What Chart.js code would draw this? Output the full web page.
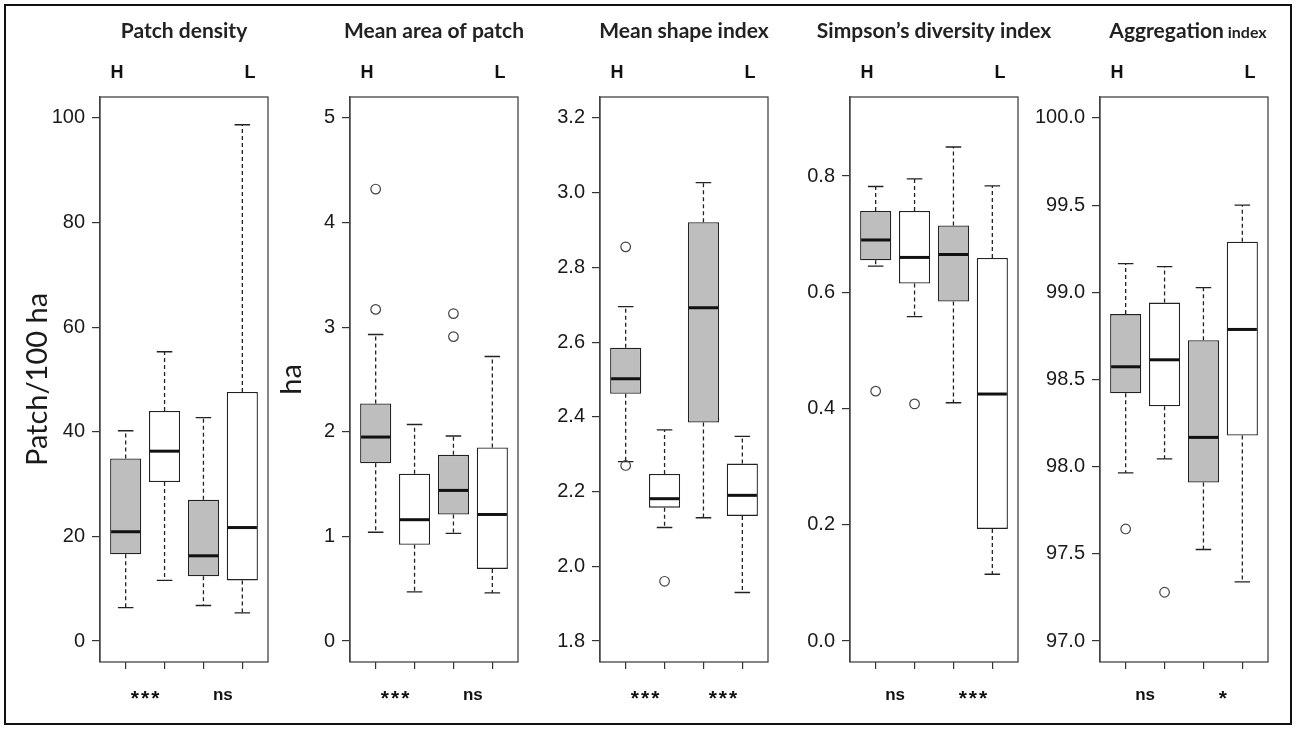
<!DOCTYPE html>
<html>
<head>
<meta charset="utf-8">
<script src="https://cdn.jsdelivr.net/npm/chart.js@4.4.0/dist/chart.umd.min.js"></script>
<style>
    html, body { margin: 0; padding: 0; background: #fff; }
    #wrap { position: relative; width: 1296px; height: 729px; overflow: hidden; }
    #frame { position: absolute; left: 4px; top: 4px; width: 1284px; height: 717px; border: 2px solid #111; }
    canvas { position: absolute; top: 0; }
</style>
</head>
<body>
<div id="wrap">
    <div id="frame"></div>
    <canvas id="c0" data-panel="0" width="330" height="729" style="left:0px"></canvas>
    <canvas id="c1" data-panel="1" width="330" height="729" style="left:250px"></canvas>
    <canvas id="c2" data-panel="2" width="330" height="729" style="left:500px"></canvas>
    <canvas id="c3" data-panel="3" width="330" height="729" style="left:750px"></canvas>
    <canvas id="c4" data-panel="4" width="330" height="729" style="left:1000px"></canvas>
</div>
<script>
// Box positions on the x axis and the fill of each box (H pair, L pair)
const xTicks = [1, 2, 3, 4];
const boxFill = ['#bebebe', '#ffffff', '#bebebe', '#ffffff'];
const groupLabels = ['H', 'L'];

const panelTitles = ['Patch density', 'Mean area of patch', 'Mean shape index', 'Simpson\u2019s diversity index', 'Aggregation'];
const panelTitleTails = ['', '', '', '', ' index'];
const yTitles = ['Patch/100 ha', 'ha', '', '', ''];
const signif = [['***', 'ns'], ['***', 'ns'], ['***', '***'], ['ns', '***'], ['ns', '*']];

// Each box: [lower whisker, Q1, median, Q3, upper whisker]
const densityStats = [
    [6.4, 16.6, 20.9, 34.9, 40.2],
    [11.6, 30.4, 36.3, 44.0, 55.3],
    [6.8, 12.4, 16.3, 27.0, 42.7],
    [5.4, 11.6, 21.7, 47.6, 98.7]
];
const densityOutliers = [[], [], [], []];
const densityTicks = [0, 20, 40, 60, 80, 100];
const densityTickLabels = ['0', '20', '40', '60', '80', '100'];
const densityLimits = [0, 100];

const areaStats = [
    [1.04, 1.70, 1.95, 2.27, 2.93],
    [0.47, 0.92, 1.16, 1.60, 2.07],
    [1.03, 1.21, 1.44, 1.78, 1.96],
    [0.46, 0.69, 1.21, 1.85, 2.72]
];
const areaOutliers = [[4.32, 3.17], [], [3.13, 2.91], []];
const areaTicks = [0, 1, 2, 3, 4, 5];
const areaTickLabels = ['0', '1', '2', '3', '4', '5'];
const areaLimits = [0, 5];

const shapeStats = [
    [2.28, 2.462, 2.502, 2.585, 2.695],
    [2.104, 2.157, 2.181, 2.247, 2.365],
    [2.13, 2.385, 2.692, 2.921, 3.027],
    [1.93, 2.135, 2.19, 2.275, 2.348]
];
const shapeOutliers = [[2.855, 2.27], [1.96], [], []];
const shapeTicks = [1.8, 2.0, 2.2, 2.4, 2.6, 2.8, 3.0, 3.2];
const shapeTickLabels = ['1.8', '2.0', '2.2', '2.4', '2.6', '2.8', '3.0', '3.2'];
const shapeLimits = [1.8, 3.2];

const simpsonStats = [
    [0.645, 0.655, 0.69, 0.74, 0.782],
    [0.558, 0.615, 0.66, 0.74, 0.795],
    [0.41, 0.584, 0.665, 0.715, 0.85],
    [0.115, 0.193, 0.425, 0.659, 0.783]
];
const simpsonOutliers = [[0.43], [0.408], [], []];
const simpsonTicks = [0, 0.2, 0.4, 0.6, 0.8];
const simpsonTickLabels = ['0.0', '0.2', '0.4', '0.6', '0.8'];
const simpsonLimits = [0, 0.9];

const aggStats = [
    [97.965, 98.421, 98.573, 98.875, 99.165],
    [98.045, 98.347, 98.613, 98.941, 99.147],
    [97.525, 97.909, 98.168, 98.725, 99.027],
    [97.34, 98.179, 98.787, 99.29, 99.5]
];
const aggOutliers = [[97.643], [97.28], [], []];
const aggTicks = [97.0, 97.5, 98.0, 98.5, 99.0, 99.5, 100.0];
const aggTickLabels = ['97.0', '97.5', '98.0', '98.5', '99.0', '99.5', '100.0'];
const aggLimits = [97, 100];

const panels = [
    { stats: densityStats, outliers: densityOutliers, ticks: densityTicks, labels: densityTickLabels, limits: densityLimits, titlePad: 20 },
    { stats: areaStats, outliers: areaOutliers, ticks: areaTicks, labels: areaTickLabels, limits: areaLimits, titlePad: 24 },
    { stats: shapeStats, outliers: shapeOutliers, ticks: shapeTicks, labels: shapeTickLabels, limits: shapeLimits, titlePad: 0 },
    { stats: simpsonStats, outliers: simpsonOutliers, ticks: simpsonTicks, labels: simpsonTickLabels, limits: simpsonLimits, titlePad: 0 },
    { stats: aggStats, outliers: aggOutliers, ticks: aggTicks, labels: aggTickLabels, limits: aggLimits, titlePad: 0 }
];

// whiskers, medians, plot box and the text around each panel
const boxExtras = {
    id: 'boxExtras',
    beforeDatasetsDraw(chart) {
        const p = panels[chart.canvas.dataset.panel];
        const { ctx } = chart;
        const y = chart.scales.y;
        const bars = chart.getDatasetMeta(0).data;
        ctx.save();
        ctx.strokeStyle = '#222';
        ctx.lineWidth = 1.3;
        p.stats.forEach((s, i) => {
            const bar = bars[i];
            const cap = bar.width / 4;
            ctx.setLineDash([4, 3]);
            ctx.beginPath();
            ctx.moveTo(bar.x, y.getPixelForValue(s[3]));
            ctx.lineTo(bar.x, y.getPixelForValue(s[4]));
            ctx.moveTo(bar.x, y.getPixelForValue(s[1]));
            ctx.lineTo(bar.x, y.getPixelForValue(s[0]));
            ctx.stroke();
            ctx.setLineDash([]);
            ctx.beginPath();
            [s[0], s[4]].forEach(v => {
                const py = y.getPixelForValue(v);
                ctx.moveTo(bar.x - cap, py);
                ctx.lineTo(bar.x + cap, py);
            });
            ctx.stroke();
        });
        ctx.restore();
    },
    afterDatasetsDraw(chart) {
        const p = panels[chart.canvas.dataset.panel];
        const { ctx } = chart;
        const y = chart.scales.y;
        const bars = chart.getDatasetMeta(0).data;
        ctx.save();
        ctx.strokeStyle = '#111';
        ctx.lineWidth = 3;
        p.stats.forEach((s, i) => {
            const bar = bars[i];
            const py = y.getPixelForValue(s[2]);
            ctx.beginPath();
            ctx.moveTo(bar.x - bar.width / 2 + 1, py);
            ctx.lineTo(bar.x + bar.width / 2 - 1, py);
            ctx.stroke();
        });
        ctx.restore();
    },
    afterDraw(chart) {
        const idx = Number(chart.canvas.dataset.panel);
        const { ctx, chartArea } = chart;
        const x = chart.scales.x;
        ctx.save();
        ctx.strokeStyle = '#444';
        ctx.lineWidth = 1.3;
        ctx.strokeRect(chartArea.left, chartArea.top, chartArea.right - chartArea.left, chartArea.bottom - chartArea.top);

        // panel title
        const cx = (chartArea.left + chartArea.right) / 2;
        ctx.fillStyle = '#222';
        ctx.textBaseline = 'middle';
        const main = panelTitles[idx];
        const tail = panelTitleTails[idx];
        ctx.font = 'bold 21px Lato';
        const w1 = ctx.measureText(main).width;
        ctx.font = 'bold 16px Lato';
        const w2 = tail ? ctx.measureText(tail).width : 0;
        const tx = cx - (w1 + w2) / 2 + (tail ? 4 : 0);
        ctx.textAlign = 'left';
        ctx.font = 'bold 21px Lato';
        ctx.fillText(main, tx, 31);
        if (tail) {
            ctx.font = 'bold 16px Lato';
            ctx.fillText(tail, tx + w1, 33);
        }

        // H / L group labels
        ctx.font = 'bold 18px "Liberation Sans"';
        ctx.fillStyle = '#111';
        ctx.textAlign = 'center';
        ctx.fillText(groupLabels[0], chartArea.left + 17, 73);
        ctx.fillText(groupLabels[1], chartArea.right - 18, 73);

        // significance marks under each pair
        signif[idx].forEach((mark, k) => {
            const px = x.getPixelForValue(k === 0 ? 1.5 : 3.5);
            ctx.textBaseline = 'alphabetic';
            if (mark === 'ns') {
                ctx.font = 'bold 17px "Liberation Sans"';
                ctx.letterSpacing = '0px';
                ctx.fillText(mark, px, 700);
            } else {
                ctx.font = 'bold 21px "Liberation Sans"';
                ctx.letterSpacing = '2px';
                ctx.fillText(mark, px + 1, 705);
                ctx.letterSpacing = '0px';
            }
        });
        ctx.restore();
    }
};

function buildChart(idx) {
    const p = panels[idx];
    const span = p.limits[1] - p.limits[0];
    const canvas = document.getElementById('c' + idx);
    return new Chart(canvas, {
        type: 'bar',
        data: {
            datasets: [
                {
                    type: 'bar',
                    data: p.stats.map((s, i) => ({ x: xTicks[i], y: [s[1], s[3]] })),
                    backgroundColor: boxFill,
                    borderColor: '#222',
                    borderWidth: 1.3,
                    borderSkipped: false,
                    barPercentage: 0.8,
                    categoryPercentage: 1.0
                },
                {
                    type: 'scatter',
                    data: p.outliers.flatMap((vals, i) => vals.map(v => ({ x: xTicks[i], y: v }))),
                    pointStyle: 'circle',
                    pointRadius: 4.8,
                    pointBorderWidth: 1.2,
                    pointBorderColor: '#444',
                    pointBackgroundColor: 'rgba(255,255,255,0)'
                }
            ]
        },
        options: {
            responsive: false,
            animation: false,
            devicePixelRatio: 1,
            events: [],
            layout: { padding: { left: 0, right: 62, top: 97, bottom: 0 } },
            plugins: { legend: { display: false }, tooltip: { enabled: false } },
            scales: {
                x: {
                    type: 'linear',
                    min: 0.34,
                    max: 4.66,
                    offset: false,
                    afterBuildTicks: s => { s.ticks = xTicks.map(v => ({ value: v })); },
                    afterFit: s => { s.height = 67; },
                    grid: { drawOnChartArea: false, drawTicks: true, tickLength: 7, color: '#333', lineWidth: 1.2, offset: false },
                    border: { display: false },
                    ticks: { callback: () => '' }
                },
                y: {
                    type: 'linear',
                    min: p.limits[0] - 0.04 * span,
                    max: p.limits[1] + 0.04 * span,
                    afterBuildTicks: s => { s.ticks = p.ticks.map(v => ({ value: v })); },
                    afterFit: s => { s.width = 100; },
                    grid: { drawOnChartArea: false, drawTicks: true, tickLength: 8, color: '#333', lineWidth: 1.2 },
                    border: { display: true, color: '#444', width: 1.3 },
                    ticks: {
                        callback: (v, i) => p.labels[i],
                        color: '#1a1a1a',
                        padding: 7,
                        font: { family: '"Liberation Sans", Arial, sans-serif', size: 20 }
                    },
                    title: {
                        display: yTitles[idx] !== '',
                        text: yTitles[idx],
                        color: '#1a1a1a',
                        font: { family: 'Lato', size: 29 },
                        padding: { top: p.titlePad, bottom: 0 }
                    }
                }
            }
        },
        plugins: [boxExtras]
    });
}

panels.forEach((p, i) => buildChart(i));
</script>
</body>
</html>
